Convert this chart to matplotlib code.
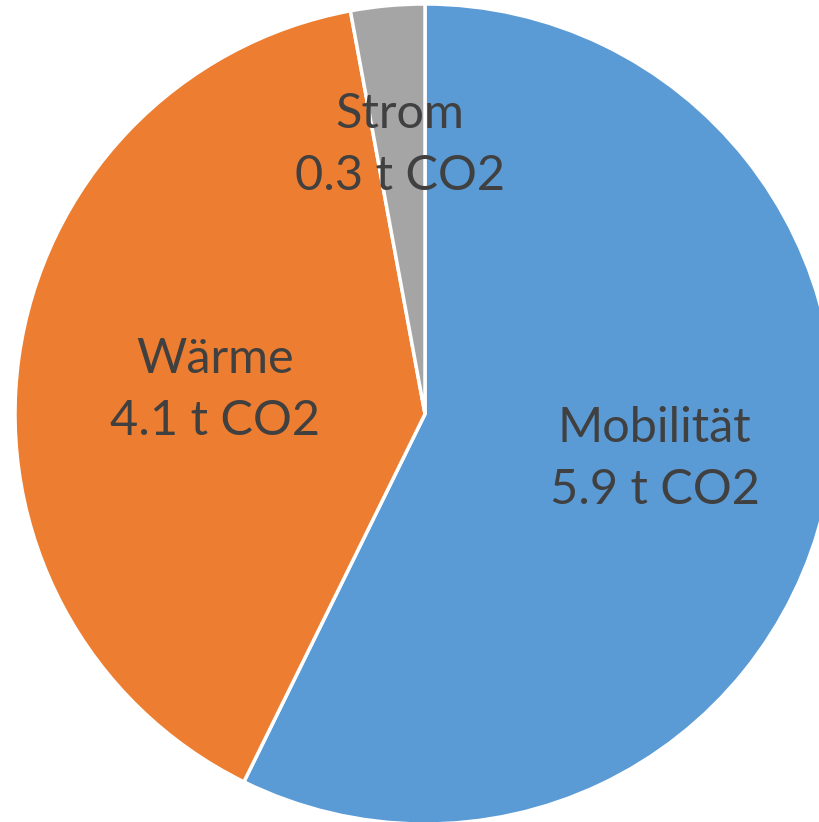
import matplotlib.pyplot as plt

# Emission shares per sector (t CO2)
sectors = ['Mobilität', 'Wärme', 'Strom']
emissions = [5.9, 4.1, 0.3]
colors = ['#5B9BD5', '#ED7D31', '#A5A5A5']

plt.rcParams['font.family'] = ['Lato', 'DejaVu Sans']

fig = plt.figure(figsize=(8.19, 8.22), dpi=100)
ax = fig.add_axes([0, 0, 1, 1])

wedges, _ = ax.pie(emissions, colors=colors, startangle=90, counterclock=False,
                   radius=1.0, center=(0, 0),
                   wedgeprops=dict(edgecolor='white', linewidth=2.5))

# pixel-equal scaling: 410 px per unit, pie centre at (425, 414)
r_px = 410.0
ax.set_xlim(-425 / r_px, (819 - 425) / r_px)
ax.set_ylim(-(822 - 414) / r_px, 414 / r_px)
ax.set_aspect('auto')
ax.axis('off')

label_pos = [(0.56, -0.11), (-0.511, 0.058), (-0.061, 0.655)]
for name, val, (x, y) in zip(sectors, emissions, label_pos):
    ax.text(x, y, f'{name}\n{val:.1f} t CO2', ha='center', va='center',
            fontsize=35, color='#404040', linespacing=1.5)

fig.savefig('out.png', dpi=100)
